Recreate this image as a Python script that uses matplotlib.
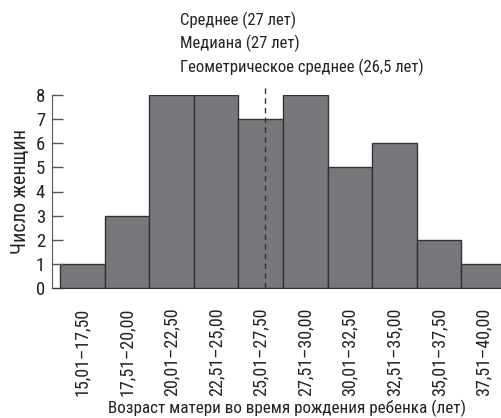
import matplotlib
matplotlib.use("Agg")
import matplotlib.pyplot as plt
import numpy as np

categories = ["15,01–17,50", "17,51–20,00", "20,01–22,50", "22,51–25,00", "25,01–27,50",
              "27,51–30,00", "30,01–32,50", "32,51–35,00", "35,01–37,50", "37,51–40,00"]
counts = [1, 3, 8, 8, 7, 8, 5, 6, 2, 1]
bin_start = 15.0
bin_width = 2.5
geo_mean = 26.5
annotation_lines = ["Среднее (27 лет)", "Медиана (27 лет)", "Геометрическое среднее (26,5 лет)"]
y_ticks = list(range(0, 9))

plt.rcParams['font.family'] = ['Roboto Condensed', 'DejaVu Sans']
plt.rcParams['font.size'] = 12

fig = plt.figure(figsize=(5.02, 4.18), dpi=100)
ax = fig.add_axes([52/502, 130/418, 450/502, 193/418])

x = np.arange(len(counts))
ax.bar(x, counts, width=1.0, align='edge', color='#77787b', edgecolor='#333333', linewidth=1.0)

ax.set_xlim(-8/44.6, 442/44.6)
ax.set_ylim(0, 8)
ax.set_yticks(y_ticks)
ax.set_xticks(x + 0.5)
ax.set_xticklabels(categories, rotation=90, color='#222222', fontsize=13)
ax.tick_params(axis='y', direction='in', length=8, width=1, color='#555555', pad=5,
               labelcolor='#222222', labelsize=13.5)
ax.tick_params(axis='x', length=0, pad=14)
for s in ['top', 'right']:
    ax.spines[s].set_visible(False)
ax.spines['left'].set_color('#555555')
ax.spines['bottom'].set_color('#333333')

gx = (geo_mean - bin_start) / bin_width
ax.axvline(gx, ymin=0, ymax=1.05, color='#333333', linestyle=(0, (4, 3)), linewidth=1, clip_on=False)

for i, line in enumerate(annotation_lines):
    fig.text(180/502, 1 - (20 + 23.5*i)/418, line, ha='left', va='center', fontsize=12, color='#222222')

ax.set_ylabel("Число женщин", labelpad=4, color='#222222', fontsize=14.5)
fig.text(287/502, 10/418, "Возраст матери во время рождения ребенка (лет)", ha='center', va='center',
         fontsize=12.3, color='#222222')

fig.savefig("out.png", dpi=100)
